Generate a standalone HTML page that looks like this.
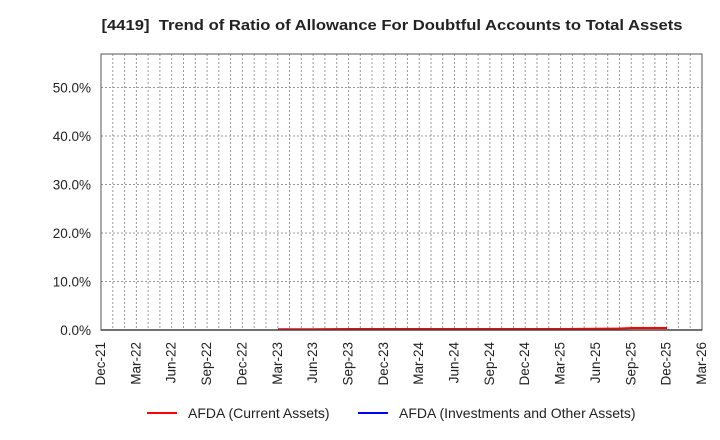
<!DOCTYPE html>
<html>
<head>
<meta charset="utf-8">
<style>
html,body{margin:0;padding:0;background:#fff;}
svg{display:block;}
text{font-family:"Liberation Sans",Arial,sans-serif;fill:#222;}
</style>
</head>
<body>
<svg width="720" height="440" viewBox="0 0 720 440" xmlns="http://www.w3.org/2000/svg">
<rect width="720" height="440" fill="#fff"/>
<text x="392" y="30" text-anchor="middle" font-size="15" font-weight="bold" fill="#222" style="white-space:pre" xml:space="preserve" textLength="581" lengthAdjust="spacingAndGlyphs">[4419]  Trend of Ratio of Allowance For Doubtful Accounts to Total Assets</text>
<path fill="none" stroke="#999" stroke-width="1" stroke-dasharray="2,2" d="M112.8 54V330M124.6 54V330M136.4 54V330M148.1 54V330M159.9 54V330M171.7 54V330M183.5 54V330M195.3 54V330M207.1 54V330M218.8 54V330M230.6 54V330M242.4 54V330M254.2 54V330M266.0 54V330M277.8 54V330M289.5 54V330M301.3 54V330M313.1 54V330M324.9 54V330M336.7 54V330M348.5 54V330M360.3 54V330M372.0 54V330M383.8 54V330M395.6 54V330M407.4 54V330M419.2 54V330M431.0 54V330M442.7 54V330M454.5 54V330M466.3 54V330M478.1 54V330M489.9 54V330M501.7 54V330M513.5 54V330M525.2 54V330M537.0 54V330M548.8 54V330M560.6 54V330M572.4 54V330M584.2 54V330M595.9 54V330M607.7 54V330M619.5 54V330M631.3 54V330M643.1 54V330M654.9 54V330M666.6 54V330M678.4 54V330M690.2 54V330"/>
<path fill="none" stroke="#999" stroke-width="1" stroke-dasharray="2,2" d="M101 281.5H702M101 233H702M101 184.5H702M101 136H702M101 87.5H702"/>
<polyline fill="none" stroke="#ff0000" stroke-width="2" points="278,329.2 313,329.2 349,329 384,329 419,329 455,329 490,329 525,329 561,329 596,328.8 620,328.5 632,328 667,328"/>
<rect x="101" y="54" width="601" height="276" fill="none" stroke="#555" stroke-width="1"/>
<line x1="101" y1="330" x2="702" y2="330" stroke="#444" stroke-width="1.5"/>
<g font-size="13.5" text-anchor="end">
<text x="91" y="335">0.0%</text>
<text x="91" y="286.5">10.0%</text>
<text x="91" y="238">20.0%</text>
<text x="91" y="189.5">30.0%</text>
<text x="91" y="141">40.0%</text>
<text x="91" y="92.5">50.0%</text>
</g>
<g font-size="13.5" text-anchor="end">
<text transform="translate(105,342) rotate(-90)">Dec-21</text>
<text transform="translate(140.4,342) rotate(-90)">Mar-22</text>
<text transform="translate(175.7,342) rotate(-90)">Jun-22</text>
<text transform="translate(211.1,342) rotate(-90)">Sep-22</text>
<text transform="translate(246.4,342) rotate(-90)">Dec-22</text>
<text transform="translate(281.8,342) rotate(-90)">Mar-23</text>
<text transform="translate(317.1,342) rotate(-90)">Jun-23</text>
<text transform="translate(352.5,342) rotate(-90)">Sep-23</text>
<text transform="translate(387.8,342) rotate(-90)">Dec-23</text>
<text transform="translate(423.2,342) rotate(-90)">Mar-24</text>
<text transform="translate(458.5,342) rotate(-90)">Jun-24</text>
<text transform="translate(493.9,342) rotate(-90)">Sep-24</text>
<text transform="translate(529.2,342) rotate(-90)">Dec-24</text>
<text transform="translate(564.6,342) rotate(-90)">Mar-25</text>
<text transform="translate(599.9,342) rotate(-90)">Jun-25</text>
<text transform="translate(635.3,342) rotate(-90)">Sep-25</text>
<text transform="translate(670.6,342) rotate(-90)">Dec-25</text>
<text transform="translate(706,342) rotate(-90)">Mar-26</text>
</g>
<line x1="147" y1="413" x2="177" y2="413" stroke="#ff0000" stroke-width="2"/>
<text x="188" y="418" font-size="14">AFDA (Current Assets)</text>
<line x1="358" y1="413" x2="388" y2="413" stroke="#0000ff" stroke-width="2"/>
<text x="399" y="418" font-size="14">AFDA (Investments and Other Assets)</text>
</svg>
</body>
</html>
